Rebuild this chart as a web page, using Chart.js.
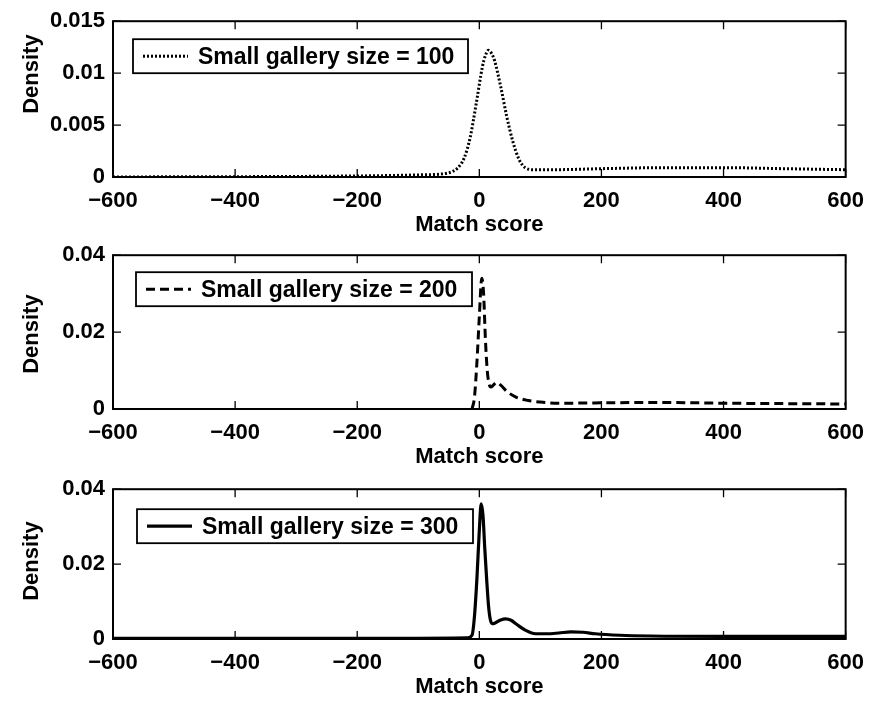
<!DOCTYPE html>
<html>
<head>
<meta charset="utf-8">
<title>Match score density</title>
<script src="https://cdn.jsdelivr.net/npm/chart.js@4.4.1/dist/chart.umd.min.js"></script>
<style>
  body { margin: 0; background: #fff; }
  .panel { position: absolute; left: 0; }
</style>
</head>
<body>
<div class="panel" style="top:0px"><canvas id="chart1" width="875" height="234"></canvas></div>
<div class="panel" style="top:234px"><canvas id="chart2" width="875" height="234"></canvas></div>
<div class="panel" style="top:468px"><canvas id="chart3" width="875" height="235"></canvas></div>

<script>
// ticks
const xTickValues = [-600, -400, -200, 0, 200, 400, 600];
const xTickLabels = ['\u2212600', '\u2212400', '\u2212200', '0', '200', '400', '600'];
const yTickValues100 = [0, 0.005, 0.01, 0.015];
const yTickLabels100 = ['0', '0.005', '0.01', '0.015'];
const yTickValues200 = [0, 0.02, 0.04];
const yTickLabels200 = ['0', '0.02', '0.04'];

// small gallery size = 100 (dotted)
const score100 = [-600, -200, -100, -60, -45, -35, -25, -15, -5, 5, 10, 15, 20, 25, 35, 45, 55, 65, 75, 90, 120, 200, 300, 400, 500, 600];
const density100 = [0, 0.0001, 0.0002, 0.0003, 0.0005, 0.0009, 0.0018, 0.0038, 0.0071, 0.0106, 0.0117, 0.0122, 0.0119, 0.0112, 0.0087, 0.0058, 0.0034, 0.0017, 0.0009, 0.0007, 0.0007, 0.0008, 0.0009, 0.0009, 0.0008, 0.0007];

// small gallery size = 200 (dashed)
const score200 = [-12, -8, -4, 0, 4, 7, 10, 13, 16, 19, 23, 28, 35, 45, 60, 80, 100, 130, 200, 300, 400, 500, 600];
const density200 = [0, 0.003, 0.012, 0.024, 0.034, 0.030, 0.018, 0.010, 0.0065, 0.0057, 0.0062, 0.0069, 0.0062, 0.0046, 0.0031, 0.0022, 0.0018, 0.0015, 0.0016, 0.0017, 0.0015, 0.0014, 0.0013];

// small gallery size = 300 (solid)
const score300 = [-600, -100, -20, -12, -8, -4, 0, 3, 6, 9, 12, 15, 18, 21, 26, 35, 43, 52, 62, 76, 92, 110, 130, 150, 170, 190, 230, 280, 400, 500, 600];
const density300 = [0.0002, 0.0002, 0.0003, 0.001, 0.006, 0.016, 0.029, 0.0361, 0.033, 0.024, 0.016, 0.009, 0.0052, 0.0041, 0.0043, 0.0051, 0.0054, 0.0050, 0.0038, 0.0023, 0.0014, 0.0014, 0.0016, 0.0019, 0.0018, 0.0014, 0.0010, 0.0008, 0.0007, 0.0007, 0.0007];

const FONT = '"Liberation Sans", Arial, sans-serif';

function toPoints(xs, ys) {
    return xs.map(function (x, i) { return { x: x, y: ys[i] }; });
}

// MATLAB style box, inward ticks, legend and axis titles
const matlabFrame = {
    id: 'matlabFrame',
    afterDatasetsDraw: function (chart, args, opts) {
        const ctx = chart.ctx;
        const a = chart.chartArea;
        const xs = chart.scales.x;
        const ys = chart.scales.y;
        ctx.save();
        ctx.strokeStyle = '#000';
        ctx.setLineDash([]);

        ctx.lineWidth = 2;
        ctx.strokeRect(a.left, a.top, a.right - a.left, a.bottom - a.top);

        const tl = 8;
        ctx.lineWidth = 1.3;
        ctx.beginPath();
        xTickValues.forEach(function (v) {
            const px = xs.getPixelForValue(v);
            ctx.moveTo(px, a.bottom); ctx.lineTo(px, a.bottom - tl);
            ctx.moveTo(px, a.top); ctx.lineTo(px, a.top + tl);
        });
        opts.yTicks.forEach(function (v) {
            const py = ys.getPixelForValue(v);
            ctx.moveTo(a.left, py); ctx.lineTo(a.left + tl, py);
            ctx.moveTo(a.right, py); ctx.lineTo(a.right - tl, py);
        });
        ctx.stroke();

        // legend
        const ds = chart.data.datasets[0];
        const bx = a.left + opts.legendDx, by = a.top + opts.legendDy;
        const bw = opts.legendW, bh = 34;
        ctx.fillStyle = '#fff';
        ctx.fillRect(bx, by, bw, bh);
        ctx.lineWidth = 1.8;
        ctx.strokeRect(bx, by, bw, bh);
        ctx.lineWidth = ds.borderWidth;
        ctx.setLineDash(ds.borderDash || []);
        ctx.beginPath();
        ctx.moveTo(bx + 10, by + bh / 2);
        ctx.lineTo(bx + 55, by + bh / 2);
        ctx.stroke();
        ctx.setLineDash([]);
        ctx.fillStyle = '#000';
        ctx.font = 'bold 23px ' + FONT;
        ctx.textAlign = 'left';
        ctx.textBaseline = 'middle';
        ctx.fillText(ds.label, bx + 65, by + bh / 2 + 1);

        // axis titles
        ctx.font = 'bold 22px ' + FONT;
        ctx.textAlign = 'center';
        ctx.fillText('Match score', (a.left + a.right) / 2, a.bottom + 48);
        ctx.save();
        ctx.translate(32, (a.top + a.bottom) / 2 + opts.yTitleDy);
        ctx.rotate(-Math.PI / 2);
        ctx.fillText('Density', 0, 0);
        ctx.restore();

        ctx.restore();
    }
};

function makePanel(id, label, xs, ys, dash, width, yTicks, yLabels, yMax, padTop, xAxisH, frame) {
    frame.yTicks = yTicks;
    return new Chart(document.getElementById(id), {
        type: 'line',
        data: {
            datasets: [{
                label: label,
                data: toPoints(xs, ys),
                borderColor: '#000',
                borderWidth: width,
                borderDash: dash,
                borderCapStyle: 'butt',
                pointRadius: 0,
                cubicInterpolationMode: 'monotone',
                fill: false
            }]
        },
        options: {
            responsive: false,
            animation: false,
            layout: { padding: { top: padTop, right: 27, left: 0, bottom: 0 } },
            plugins: {
                legend: { display: false },
                tooltip: { enabled: false },
                matlabFrame: frame
            },
            scales: {
                x: {
                    type: 'linear',
                    min: -600,
                    max: 600,
                    afterBuildTicks: function (s) { s.ticks = xTickValues.map(function (v) { return { value: v }; }); },
                    afterFit: function (s) { s.height = xAxisH; },
                    grid: { display: false, drawTicks: false },
                    border: { display: false },
                    ticks: {
                        padding: 11,
                        maxRotation: 0,
                        color: '#000',
                        font: { family: FONT, size: 22, weight: 'bold' },
                        callback: function (v) { return xTickLabels[xTickValues.indexOf(v)]; }
                    }
                },
                y: {
                    type: 'linear',
                    min: 0,
                    max: yMax,
                    afterBuildTicks: function (s) { s.ticks = yTicks.map(function (v) { return { value: v }; }); },
                    afterFit: function (s) { s.width = 113; },
                    grid: { display: false, drawTicks: false },
                    border: { display: false },
                    ticks: {
                        padding: 8,
                        color: '#000',
                        font: { family: FONT, size: 22, weight: 'bold' },
                        callback: function (v) { return yLabels[yTicks.indexOf(v)]; }
                    }
                }
            }
        },
        plugins: [matlabFrame]
    });
}

makePanel('chart1', 'Small gallery size = 100', score100, density100, [2, 2], 3,
    yTickValues100, yTickLabels100, 0.015, 18, 57,
    { legendDx: 20, legendDy: 18, legendW: 335, yTitleDy: -25 });

makePanel('chart2', 'Small gallery size = 200', score200, density200, [9, 5], 3,
    yTickValues200, yTickLabels200, 0.04, 17, 59,
    { legendDx: 23, legendDy: 17, legendW: 336, yTitleDy: 2 });

makePanel('chart3', 'Small gallery size = 300', score300, density300, [], 3.2,
    yTickValues200, yTickLabels200, 0.04, 14, 64,
    { legendDx: 24, legendDy: 20, legendW: 336, yTitleDy: -3 });
</script>
</body>
</html>
